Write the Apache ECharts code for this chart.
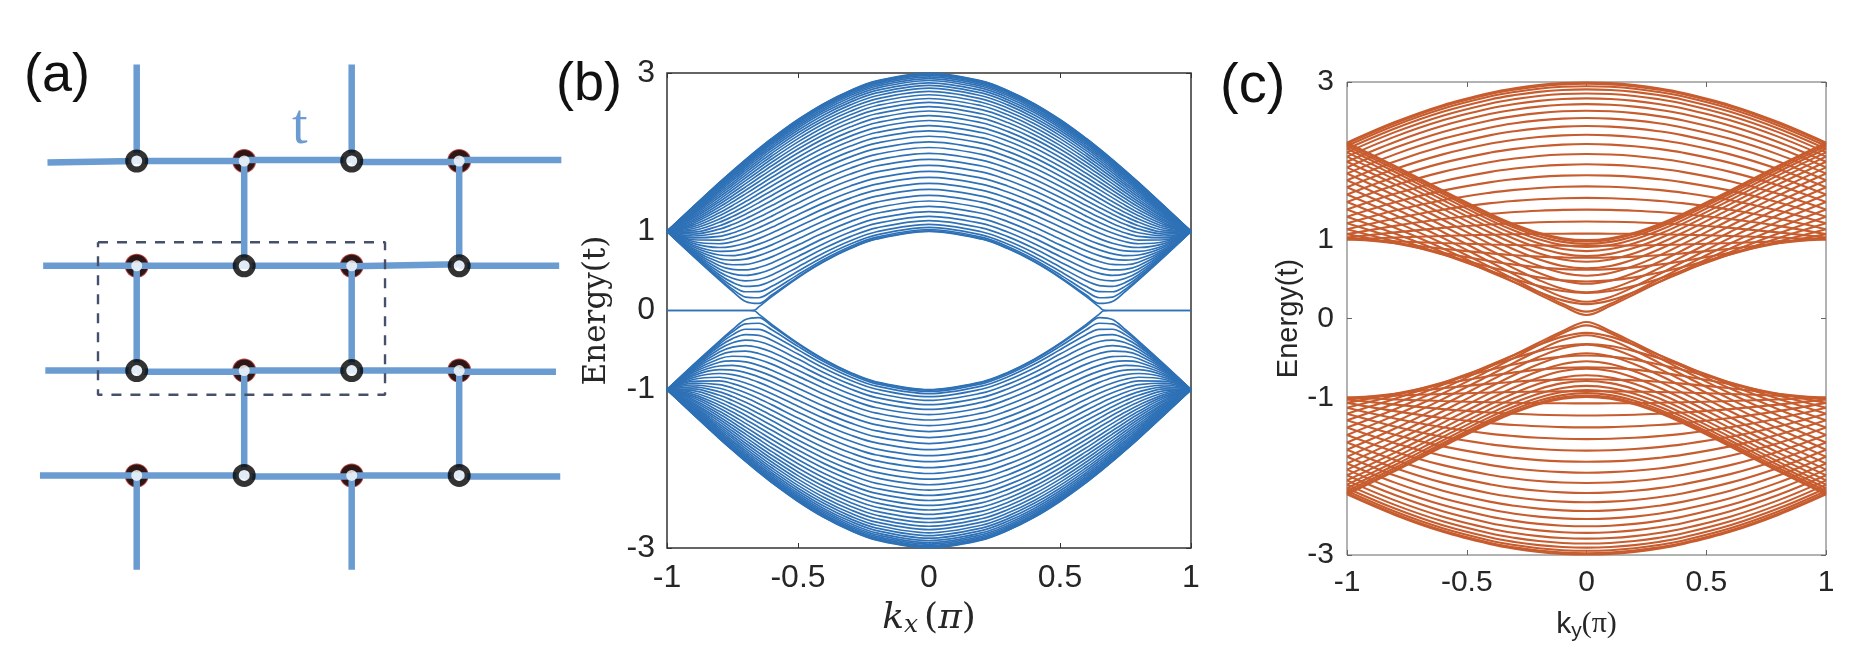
<!DOCTYPE html>
<html><head><meta charset="utf-8">
<style>html,body{margin:0;padding:0;background:#fff}#c{width:1876px;height:664px}</style>
<script src="https://cdn.jsdelivr.net/npm/echarts@6/dist/echarts.min.js"></script>
</head><body><div id="c"></div>
<script>
// ---------- Panel (a): lattice, in lattice units (column, row) ----------
const bonds = [
 [[-0.83,0.015],[0,0]],[[0,0],[1,0]],[[1,-0.01],[2,-0.01]],[[2,0.01],[3,0.01]],[[3,-0.01],[3.95,-0.01]],
 [[-0.87,1],[2,1]],[[2,1.005],[3,0.985]],[[3,1],[3.93,1]],
 [[-0.85,2],[0,2]],[[0,2.01],[1,2.01]],[[1,2],[2,2]],[[2,2],[3,2]],[[3,2.01],[3.9,2.01]],
 [[-0.9,3],[1,3]],[[1,3.01],[2,3.01]],[[2,3],[3,3]],[[3,3.01],[3.94,3.01]],
 [[0,-0.92],[0,0]],[[2,-0.92],[2,0]],
 [[1,0],[1,1]],[[3,0],[3,1]],
 [[0,1],[0,2]],[[2,1],[2,2]],
 [[1,2],[1,3]],[[3,2],[3,3]],
 [[0,3],[0,3.9]],[[2,3],[2,3.9]]
];
const blackNodes = [[0,0],[2,0],[1,1],[3,1],[0,2],[2,2],[1,3],[3,3]];
const redNodes = [[1,0],[3,0],[0,1],[2,1],[1,2],[3,2],[0,3],[2,3]];
const unitCell = [[-0.36,0.776],[2.31,0.776],[2.31,2.23],[-0.36,2.23],[-0.36,0.776]];

// ---------- Panel (b): |k| samples; each row lists the 40 upper-band energies at that |k| ----------
const bK = [1,0.9,0.8,0.75,0.7,0.65,0.6,0.5,0.4,0.3,0.2,0];
const bBands = [
[1,1,1,1,1,1,1,1,1,1,1,1,1,1,1,1,1,1,1,1,1,1,1,1,1,1,1,1,1,1,1,1,1,1,1,1,1,1,1,1],
[1.312,1.310,1.307,1.302,1.296,1.288,1.279,1.269,1.257,1.245,1.231,1.216,1.199,1.182,1.164,1.144,1.124,1.103,1.082,1.059,1.036,1.013,0.989,0.965,0.941,0.917,0.894,0.871,0.848,0.825,0.804,0.784,0.765,0.748,0.733,0.719,0.708,0.699,0.692,0.688],
[1.617,1.614,1.608,1.600,1.590,1.578,1.563,1.547,1.528,1.508,1.485,1.460,1.433,1.404,1.374,1.342,1.308,1.272,1.234,1.196,1.155,1.114,1.071,1.027,0.982,0.936,0.889,0.843,0.796,0.748,0.701,0.654,0.609,0.566,0.523,0.486,0.452,0.423,0.400,0.387],
[1.764,1.760,1.754,1.745,1.733,1.719,1.703,1.684,1.663,1.640,1.613,1.585,1.555,1.522,1.487,1.450,1.411,1.370,1.327,1.282,1.235,1.187,1.138,1.086,1.033,0.979,0.924,0.868,0.811,0.753,0.694,0.636,0.578,0.520,0.463,0.407,0.355,0.308,0.270,0.243],
[1.907,1.902,1.895,1.885,1.873,1.858,1.840,1.819,1.796,1.770,1.741,1.710,1.677,1.641,1.602,1.561,1.518,1.473,1.426,1.376,1.324,1.271,1.216,1.159,1.100,1.040,0.978,0.915,0.850,0.785,0.718,0.650,0.582,0.513,0.443,0.374,0.305,0.237,0.170,0.114],
[2.044,2.039,2.032,2.021,2.007,1.991,1.972,1.950,1.925,1.897,1.866,1.833,1.797,1.758,1.717,1.673,1.627,1.578,1.527,1.474,1.418,1.361,1.302,1.240,1.177,1.112,1.045,0.978,0.908,0.838,0.766,0.693,0.619,0.543,0.468,0.392,0.315,0.239,0.161,0.089],
[2.174,2.170,2.162,2.151,2.136,2.119,2.099,2.075,2.049,2.019,1.987,1.952,1.914,1.873,1.829,1.783,1.734,1.683,1.629,1.573,1.514,1.454,1.391,1.326,1.260,1.192,1.122,1.051,0.978,0.904,0.829,0.754,0.677,0.601,0.524,0.449,0.375,0.305,0.243,0.195],
[2.412,2.407,2.399,2.387,2.371,2.352,2.330,2.305,2.276,2.245,2.209,2.171,2.130,2.086,2.039,1.989,1.936,1.881,1.823,1.763,1.700,1.636,1.569,1.500,1.430,1.358,1.284,1.210,1.134,1.058,0.981,0.904,0.829,0.754,0.683,0.614,0.551,0.496,0.453,0.424],
[2.616,2.611,2.602,2.589,2.573,2.553,2.530,2.503,2.473,2.439,2.402,2.362,2.319,2.272,2.223,2.171,2.116,2.058,1.997,1.934,1.869,1.802,1.733,1.661,1.589,1.515,1.439,1.363,1.287,1.210,1.134,1.059,0.985,0.914,0.847,0.785,0.730,0.683,0.648,0.625],
[2.780,2.775,2.765,2.752,2.735,2.715,2.691,2.663,2.632,2.597,2.559,2.517,2.472,2.425,2.374,2.320,2.263,2.203,2.141,2.077,2.010,1.941,1.870,1.797,1.724,1.649,1.573,1.496,1.420,1.344,1.268,1.194,1.123,1.055,0.991,0.933,0.882,0.840,0.809,0.789],
[2.900,2.894,2.885,2.871,2.854,2.833,2.809,2.780,2.748,2.713,2.674,2.631,2.586,2.537,2.485,2.430,2.372,2.311,2.248,2.183,2.115,2.045,1.973,1.900,1.825,1.750,1.673,1.597,1.521,1.445,1.370,1.297,1.228,1.161,1.100,1.044,0.995,0.956,0.926,0.908],
[2.998,2.992,2.982,2.969,2.951,2.930,2.905,2.876,2.844,2.808,2.768,2.725,2.678,2.629,2.576,2.520,2.462,2.400,2.336,2.270,2.201,2.131,2.059,1.985,1.910,1.834,1.758,1.681,1.605,1.529,1.455,1.383,1.315,1.250,1.190,1.136,1.089,1.051,1.023,1.006]
];
// edge-state line of panel (b)
const bEdgeK = [1,0.85,0.72,0.685,0.665,0.65,0.6,0.5,0.4,0.3,0.2,0];
const bEdgeE = [0,0,0,0,0.006,0.045,0.176,0.414,0.618,0.782,0.902,1];

// ---------- Panel (c): |k| samples; rows list the 20 energies of each of the two line families ----------
const cK = [1,0.8,0.6,0.4,0.3,0.2,0.1,0];
const cRising = [
[2.231,2.215,2.189,2.153,2.107,2.053,1.989,1.917,1.839,1.754,1.664,1.572,1.477,1.383,1.292,1.207,1.132,1.070,1.026,1.003],
[2.492,2.475,2.449,2.411,2.364,2.307,2.240,2.165,2.082,1.992,1.895,1.794,1.689,1.582,1.475,1.369,1.268,1.175,1.093,1.027],
[2.706,2.689,2.661,2.623,2.573,2.514,2.445,2.366,2.279,2.184,2.082,1.974,1.860,1.742,1.622,1.501,1.380,1.262,1.150,1.047],
[2.864,2.847,2.818,2.779,2.728,2.667,2.596,2.515,2.424,2.326,2.219,2.105,1.985,1.860,1.730,1.597,1.463,1.327,1.193,1.063],
[2.921,2.903,2.874,2.834,2.783,2.722,2.649,2.567,2.476,2.376,2.267,2.152,2.030,1.902,1.768,1.632,1.492,1.351,1.209,1.069],
[2.961,2.944,2.915,2.875,2.823,2.761,2.688,2.605,2.513,2.412,2.302,2.185,2.062,1.932,1.796,1.656,1.513,1.367,1.221,1.073],
[2.986,2.968,2.939,2.899,2.847,2.785,2.711,2.628,2.536,2.434,2.323,2.206,2.081,1.949,1.812,1.671,1.526,1.378,1.227,1.076],
[2.994,2.977,2.947,2.907,2.855,2.792,2.719,2.636,2.543,2.441,2.331,2.213,2.087,1.956,1.818,1.676,1.530,1.381,1.230,1.077]
];
const cFalling = [
[2.231,2.215,2.189,2.153,2.107,2.053,1.989,1.917,1.839,1.754,1.664,1.572,1.477,1.383,1.292,1.207,1.132,1.070,1.026,1.003],
[1.935,1.920,1.894,1.859,1.815,1.762,1.701,1.632,1.558,1.479,1.396,1.312,1.229,1.150,1.078,1.019,0.976,0.954,0.954,0.979],
[1.623,1.607,1.582,1.547,1.503,1.451,1.391,1.324,1.252,1.176,1.098,1.022,0.951,0.889,0.841,0.814,0.811,0.835,0.885,0.957],
[1.323,1.307,1.281,1.245,1.200,1.146,1.084,1.014,0.940,0.863,0.785,0.713,0.650,0.606,0.587,0.602,0.650,0.727,0.826,0.939],
[1.193,1.177,1.150,1.113,1.065,1.009,0.945,0.872,0.794,0.713,0.632,0.556,0.495,0.458,0.459,0.502,0.581,0.683,0.802,0.932],
[1.088,1.071,1.043,1.004,0.955,0.896,0.828,0.751,0.668,0.580,0.489,0.405,0.338,0.308,0.336,0.414,0.522,0.648,0.785,0.927],
[1.019,1.001,0.972,0.932,0.881,0.820,0.748,0.666,0.577,0.480,0.377,0.274,0.187,0.161,0.230,0.349,0.484,0.626,0.775,0.924],
[0.994,0.977,0.947,0.907,0.855,0.792,0.719,0.636,0.543,0.441,0.331,0.213,0.087,0.044,0.182,0.324,0.470,0.619,0.770,0.923]
];
const yTicks = [-3,-1,0,1,3];

// ---------- build ----------
const BLUE='#2E71B6', ORANGE='#C75C2E', BOND='#6A9BD1';
function mirrored(ks, es, sign){
  const pts=[];
  ks.forEach((k,j)=>pts.push([-k, sign*es[j]]));
  for(let j=ks.length-1;j>=0;j--) if(ks[j]!==0) pts.push([ks[j], sign*es[j]]);
  return pts;
}
function column(rows,i){return rows.map(r=>r[i]);}
const series=[];
function band(gridIdx,ks,es,sign,color,width){
  series.push({type:'line',xAxisIndex:gridIdx,yAxisIndex:gridIdx,data:mirrored(ks,es,sign),smooth:0.35,
    symbol:'none',silent:true,animation:false,lineStyle:{color:color,width:width},z:3});
}
// panel (a) occupies axes 0
bonds.forEach(b=>series.push({type:'line',xAxisIndex:0,yAxisIndex:0,data:b,symbol:'none',silent:true,animation:false,
  lineStyle:{color:BOND,width:6.5,cap:'butt'},z:4}));
series.push({type:'line',xAxisIndex:0,yAxisIndex:0,data:unitCell,symbol:'none',silent:true,animation:false,
  lineStyle:{color:'#46506B',width:2.4,type:[10,9]},z:6});
series.push({type:'scatter',xAxisIndex:0,yAxisIndex:0,data:redNodes,symbol:'circle',symbolSize:24,silent:true,animation:false,
  itemStyle:{color:'#A81A12'},z:2});
series.push({type:'scatter',xAxisIndex:0,yAxisIndex:0,data:redNodes,symbol:'circle',symbolSize:22,silent:true,animation:false,
  itemStyle:{color:'#0A0A0A'},z:3});
series.push({type:'scatter',xAxisIndex:0,yAxisIndex:0,data:blackNodes,symbol:'circle',symbolSize:17,silent:true,animation:false,
  itemStyle:{color:'#fff',borderColor:'#000',borderWidth:6},z:5});
series.push({type:'scatter',xAxisIndex:0,yAxisIndex:0,data:redNodes,symbol:'circle',symbolSize:11,silent:true,animation:false,
  itemStyle:{color:'#fff'},z:5});
// panel (b) axes 1
for(let i=0;i<40;i++){const e=column(bBands,i);band(1,bK,e,1,BLUE,1.7);band(1,bK,e,-1,BLUE,1.7);}
band(1,bEdgeK,bEdgeE,1,BLUE,1.6);band(1,bEdgeK,bEdgeE,-1,BLUE,1.6);
// panel (c) axes 2
for(let i=0;i<20;i++){
  const r=column(cRising,i),f=column(cFalling,i);
  band(2,cK,r,1,ORANGE,2.1);band(2,cK,r,-1,ORANGE,2.1);
  band(2,cK,f,1,ORANGE,2.1);band(2,cK,f,-1,ORANGE,2.1);
}
function tickFont(size){return {fontFamily:'"Liberation Sans"',fontSize:size,color:'#262626'};}
function sideAxes(g,color){
  return {
    x:{type:'value',gridIndex:g,position:'top',min:-1,max:1,interval:0.5,axisLine:{show:false,onZero:false},splitLine:{show:false},axisLabel:{show:false},
       axisTick:{inside:true,length:5,lineStyle:{color:color}}},
    y:{type:'value',gridIndex:g,position:'right',min:-3,max:3,axisLine:{show:false,onZero:false},splitLine:{show:false},axisLabel:{show:false},
       axisTick:{inside:true,length:5,customValues:yTicks,lineStyle:{color:color}}}
  };
}
function mainX(g,color,name,rich,gap,size,margin){
  return {type:'value',gridIndex:g,position:'bottom',min:-1,max:1,interval:0.5,axisLine:{show:false,onZero:false},splitLine:{show:false},
    axisTick:{inside:true,length:5,lineStyle:{color:color}},
    axisLabel:Object.assign({margin:margin,formatter:v=>String(v),hideOverlap:false},tickFont(size)),
    name:name,nameLocation:'middle',nameGap:gap,nameTextStyle:{rich:rich,color:'#262626'}};
}
function mainY(g,color,name,gap,font,size,margin){
  return {type:'value',gridIndex:g,position:'left',min:-3,max:3,axisLine:{show:false,onZero:false},splitLine:{show:false},
    axisTick:{inside:true,length:5,customValues:yTicks,lineStyle:{color:color}},
    axisLabel:Object.assign({margin:margin,customValues:yTicks,formatter:v=>String(v)},tickFont(size)),
    name:name,nameLocation:'middle',nameRotate:90,nameGap:gap,nameTextStyle:font};
}
const sb=sideAxes(1,'#333'), sc=sideAxes(2,'#666');
const richB={i:{fontFamily:'"DejaVu Serif"',fontStyle:'italic',fontSize:36,color:'#262626'},
  s:{fontFamily:'"DejaVu Serif"',fontStyle:'italic',fontSize:25,color:'#262626',verticalAlign:'bottom',padding:[14,0,0,0]},
  r:{fontFamily:'"DejaVu Serif"',fontSize:36,color:'#262626',padding:[0,0,0,6]},
  p:{fontFamily:'"DejaVu Serif"',fontStyle:'italic',fontSize:36,color:'#262626'},
  e:{fontFamily:'"DejaVu Serif"',fontSize:36,color:'#262626'}};
const richC={i:{fontFamily:'"Liberation Sans"',fontSize:30,color:'#262626'},
  s:{fontFamily:'"Liberation Sans"',fontSize:21,color:'#262626',verticalAlign:'bottom',padding:[14,0,0,0]},
  r:{fontFamily:'"Liberation Serif"',fontSize:30,color:'#262626'}};
const option={
  backgroundColor:'#fff',animation:false,
  title:[
    {text:'(a)',left:24,top:49,textStyle:{fontFamily:'"Liberation Sans"',fontWeight:'normal',fontSize:54,color:'#111'},padding:0},
    {text:'(b)',left:556,top:58,textStyle:{fontFamily:'"Liberation Sans"',fontWeight:'normal',fontSize:54,color:'#111'},padding:0},
    {text:'(c)',left:1220,top:59,textStyle:{fontFamily:'"Liberation Sans"',fontWeight:'normal',fontSize:56,color:'#111'},padding:0},
    {text:'t',left:292,top:100,textStyle:{fontFamily:'"Liberation Serif"',fontWeight:'normal',fontSize:56,color:BOND},padding:0}
  ],
  grid:[
    {left:29.2,top:56.2,width:537.5,height:524,show:false},
    {left:667,top:73,width:524,height:475,show:true,borderColor:'#333',borderWidth:1.5,backgroundColor:'transparent'},
    {left:1347,top:82,width:479,height:473,show:true,borderColor:'#666',borderWidth:1,backgroundColor:'transparent'}
  ],
  xAxis:[
    {type:'value',gridIndex:0,min:-1,max:4,show:false},
    mainX(1,'#333','{i|k}{s|x}{r|(}{p|π}{e|)}',richB,51,32,14),
    mainX(2,'#666','{i|k}{s|y}{r|(π)}',richC,52,30,13),
    sb.x,sc.x
  ],
  yAxis:[
    {type:'value',gridIndex:0,min:-1,max:4,inverse:true,show:false},
    mainY(1,'#333','Energy(t)',55,{fontFamily:'"DejaVu Serif"',fontSize:31,color:'#262626'},32,12),
    mainY(2,'#666','Energy(t)',43,{fontFamily:'"Liberation Sans"',fontSize:29,color:'#262626'},30,13),
    sb.y,sc.y
  ],
  series:series
};
echarts.init(document.getElementById('c'),null,{renderer:'canvas'}).setOption(option);
</script></body></html>
